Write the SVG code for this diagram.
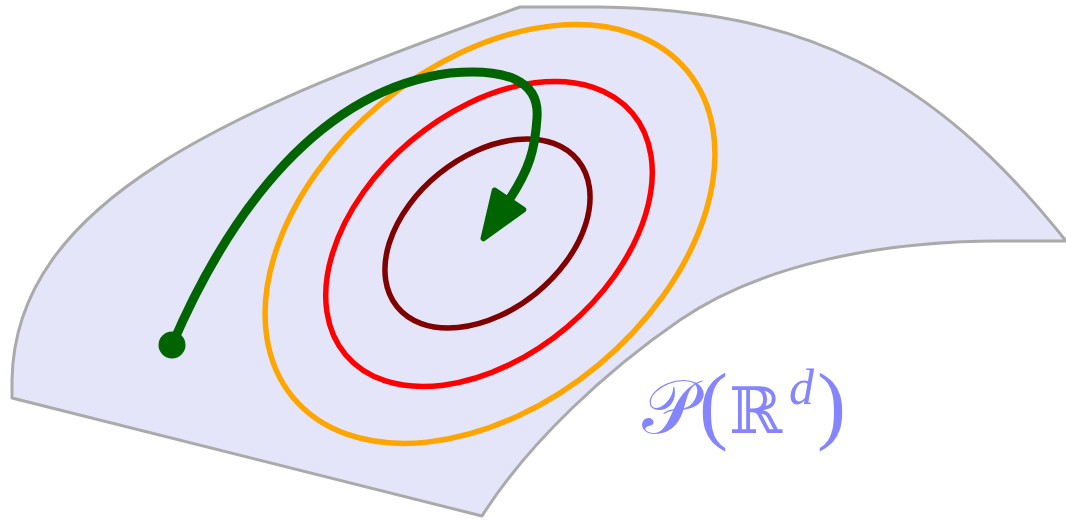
<svg xmlns="http://www.w3.org/2000/svg" width="1066" height="521" viewBox="0 0 1066 521">
  <style>
    .surface { fill: #e5e5fa; stroke: #aaaaaa; stroke-width: 3; stroke-linejoin: round; }
    .level { fill: none; stroke-width: 5.5; }
    .flow { fill: none; stroke: #006400; stroke-width: 9; stroke-linecap: butt; }
    .label { fill: #8585ff; font-family: "Liberation Serif", "DejaVu Serif", serif; }
  </style>
  <defs>
    <marker id="arrowhead" markerUnits="userSpaceOnUse" markerWidth="60" markerHeight="60" viewBox="-4 -22 52 44" refX="0" refY="0" orient="auto">
      <path d="M0,-15 L40,0 L0,15 Z" fill="#006400" stroke="#006400" stroke-width="5" stroke-linejoin="round"/>
    </marker>
  </defs>

  <g id="manifold">
    <path class="surface" d="M12,398 L12,380 C 15,200 230,110 520,7 L600,7 C 800,10 930,70 1066,241 L1000,241 C 880,241 760,265 680,320 C 610,368 530,440 482,516 Z"/>
  </g>

  <g id="level-sets">
    <ellipse id="level-outer" class="level" stroke="#ffa500" cx="490" cy="234" rx="256" ry="170" transform="rotate(-39.7 490 234)"/>
    <ellipse id="level-middle" class="level" stroke="#ff0000" cx="489" cy="234" rx="187.5" ry="121.5" transform="rotate(-40.2 489 234)"/>
    <ellipse id="level-inner" class="level" stroke="#800000" cx="487.5" cy="233.5" rx="116.3" ry="77" transform="rotate(-39 487.5 233.5)"/>
  </g>

  <g id="connectors">
    <circle id="start" cx="172" cy="345" r="13.5" fill="#006400"/>
    <path class="flow" marker-end="url(#arrowhead)" d="M172,345 C 230,210 320,90 450,73 C 505,68 540,80 537,118 C 535,150 529,170 509,200"/>
  </g>

  <g id="label">
    <text class="label" y="433"><tspan x="642" font-size="75">𝒫</tspan><tspan x="699" font-size="87">(</tspan><tspan x="729" font-size="64">ℝ</tspan><tspan x="789" y="404" font-size="50" font-style="italic">d</tspan><tspan x="817" y="433" font-size="87">)</tspan></text>
  </g>
</svg>
